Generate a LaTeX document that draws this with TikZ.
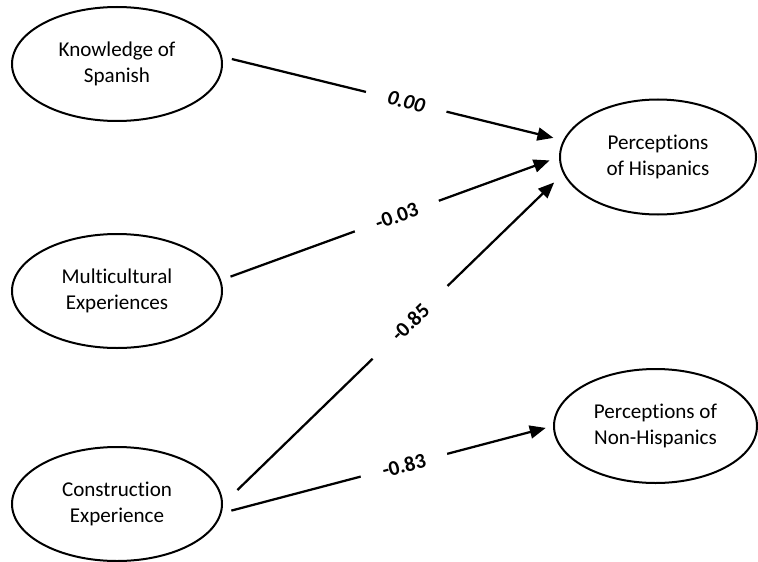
\documentclass[tikz,border=0pt]{standalone}
\usepackage{fontspec}
\setmainfont{Carlito}[Ligatures=NoCommon]
\usetikzlibrary{arrows.meta,shapes.geometric}

\begin{document}
\begin{tikzpicture}[
    construct/.style={ellipse, draw, line width=0.040cm, inner sep=0pt,
      minimum width=4.200000cm, minimum height=2.280000cm, align=center,
      font=\fontsize{12}{15}\selectfont},
    effect/.style={line width=0.045cm, -{Triangle[length=0.320000cm, width=0.260000cm]}},
    coef/.style={sloped, fill=white, inner xsep=0.450000cm, inner ysep=0.050000cm,
      font=\fontsize{12}{14}\selectfont\bfseries}
  ]
                    \useasboundingbox (0,0) rectangle (15.160000,11.220000);
                    {

                    % Marking construct Knowledge of Spanish
                    \node [construct] (know) at (2.340000,9.940000) {Knowledge of\\Spanish};%

                    % Marking construct Multicultural Experiences
                    \node [construct] (multi) at (2.340000,5.400000) {Multicultural\\Experiences};%

                    % Marking construct Construction Experience
                    \node [construct] (cons) at (2.340000,1.140000) {Construction\\Experience};%

                    % Marking outcome Perceptions of Hispanics
                    \node [construct, minimum width=3.920000cm, minimum height=2.300000cm] (ph) at (13.160000,8.080000) {Perceptions\\of Hispanics};%

                    % Marking outcome Perceptions of Non-Hispanics
                    \node [construct, minimum width=4.060000cm, minimum height=2.280000cm] (pnh) at (13.110000,2.700000) {Perceptions of\\Non-Hispanics};%

                    % Drawing path know ph
                    \draw [effect, shorten <=0.200000cm, shorten >=0.200000cm] (know.4) -- node [coef, pos=0.54] {\itshape 0.00} (ph.170);%

                    % Drawing path multi ph
                    \draw [effect, shorten <=0.200000cm, shorten >=0.200000cm] (multi.6) -- node [coef, pos=0.52] {-0.03} (ph.west);%

                    % Drawing path cons ph
                    \draw [effect, shorten <=0.400000cm, shorten >=0.250000cm] (cons.east) -- node [coef, pos=0.55, inner xsep=0.600000cm] {-0.85} (ph.190);%

                    % Drawing path cons pnh
                    \draw [effect, shorten <=0.200000cm, shorten >=0.150000cm] (cons.-5) -- node [coef, pos=0.55] {-0.83} (pnh.west);%
                    }
\end{tikzpicture}
\end{document}
